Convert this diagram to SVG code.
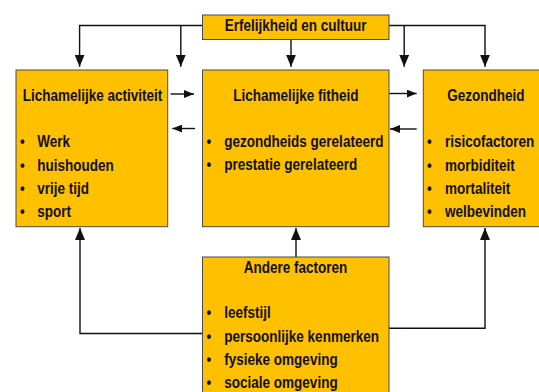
<svg xmlns="http://www.w3.org/2000/svg" width="539" height="392" viewBox="0 0 539 392">
<defs>
<style>
.box{fill:#FFC000;stroke:#4a4a4a;stroke-width:1}
.t{font-family:"Liberation Sans",Arial,sans-serif;font-weight:bold;font-size:16px;fill:#111}
.c{text-anchor:middle}
.ln{fill:none;stroke:#111;stroke-width:1.4}
</style>
<marker id="av" viewBox="0 0 12 10" refX="12" refY="5" markerWidth="12" markerHeight="10" markerUnits="userSpaceOnUse" orient="auto">
<path d="M0,0 L12,5 L0,10 z" fill="#111"/>
</marker>
<marker id="ah" viewBox="0 0 10 8" refX="10" refY="4" markerWidth="10" markerHeight="8" markerUnits="userSpaceOnUse" orient="auto">
<path d="M0,0 L10,4 L0,8 z" fill="#111"/>
</marker>
</defs>
<rect width="539" height="392" fill="#fff"/>

<g id="connectors">
<path class="ln" d="M202.5,25.5 H79.6 V66.7" marker-end="url(#av)"/>
<path class="ln" d="M180.8,25.5 V66.7" marker-end="url(#av)"/>
<path class="ln" d="M291,39.5 V66.7" marker-end="url(#av)"/>
<path class="ln" d="M389,25.5 H485 V66.7" marker-end="url(#av)"/>
<path class="ln" d="M404.2,25.5 V66.7" marker-end="url(#av)"/>
<path class="ln" d="M170.7,94 H194" marker-end="url(#ah)"/>
<path class="ln" d="M195,128.5 H172.3" marker-end="url(#ah)"/>
<path class="ln" d="M389,93.5 H416.7" marker-end="url(#ah)"/>
<path class="ln" d="M416.7,129 H390" marker-end="url(#ah)"/>
<path class="ln" d="M202.5,333.5 H80 V228" marker-end="url(#av)"/>
<path class="ln" d="M296,257 V228" marker-end="url(#av)"/>
<path class="ln" d="M389,328.3 H485 V228" marker-end="url(#av)"/>
</g>

<g id="erfelijkheid">
<rect class="box" x="202.5" y="15" width="186.5" height="24.5"/>
<text class="t c" transform="translate(295.7 31) scale(0.845 1)">Erfelijkheid en cultuur</text>
</g>

<g id="activiteit">
<rect class="box" x="16" y="70" width="151.7" height="156.7"/>
<text class="t" transform="translate(22.7 100.7) scale(0.845 1)">Lichamelijke activiteit</text>
<text class="t" transform="translate(19.9 147.3) scale(0.845 1)">•</text>
<text class="t" transform="translate(37.3 147.3) scale(0.845 1)">Werk</text>
<text class="t" transform="translate(19.9 170.7) scale(0.845 1)">•</text>
<text class="t" transform="translate(37.3 170.7) scale(0.845 1)">huishouden</text>
<text class="t" transform="translate(19.9 194) scale(0.845 1)">•</text>
<text class="t" transform="translate(37.3 194) scale(0.845 1)">vrije tijd</text>
<text class="t" transform="translate(19.9 217.3) scale(0.845 1)">•</text>
<text class="t" transform="translate(37.3 217.3) scale(0.845 1)">sport</text>
</g>

<g id="fitheid">
<rect class="box" x="202.5" y="70" width="186.5" height="156.7"/>
<text class="t c" transform="translate(295.8 100.7) scale(0.845 1)">Lichamelijke fitheid</text>
<text class="t" transform="translate(206.6 147.3) scale(0.845 1)">•</text>
<text class="t" transform="translate(224.3 147.3) scale(0.845 1)">gezondheids gerelateerd</text>
<text class="t" transform="translate(206.6 170.3) scale(0.845 1)">•</text>
<text class="t" transform="translate(224.3 170.3) scale(0.845 1)">prestatie gerelateerd</text>
</g>

<g id="gezondheid">
<rect class="box" x="423.3" y="70" width="120" height="156.7"/>
<text class="t c" transform="translate(485.8 100.7) scale(0.845 1)">Gezondheid</text>
<text class="t" transform="translate(426.9 147.3) scale(0.845 1)">•</text>
<text class="t" transform="translate(445 147.3) scale(0.845 1)">risicofactoren</text>
<text class="t" transform="translate(426.9 170.7) scale(0.845 1)">•</text>
<text class="t" transform="translate(445 170.7) scale(0.845 1)">morbiditeit</text>
<text class="t" transform="translate(426.9 194) scale(0.845 1)">•</text>
<text class="t" transform="translate(445 194) scale(0.845 1)">mortaliteit</text>
<text class="t" transform="translate(426.9 217.3) scale(0.845 1)">•</text>
<text class="t" transform="translate(445 217.3) scale(0.845 1)">welbevinden</text>
</g>

<g id="andere">
<rect class="box" x="202.5" y="257" width="186.5" height="140"/>
<text class="t c" transform="translate(295.5 272.7) scale(0.845 1)">Andere factoren</text>
<text class="t" transform="translate(206.6 318.4) scale(0.845 1)">•</text>
<text class="t" transform="translate(224.3 318.4) scale(0.845 1)">leefstijl</text>
<text class="t" transform="translate(206.6 342) scale(0.845 1)">•</text>
<text class="t" transform="translate(224.3 342) scale(0.845 1)">persoonlijke kenmerken</text>
<text class="t" transform="translate(206.6 365) scale(0.845 1)">•</text>
<text class="t" transform="translate(224.3 365) scale(0.845 1)">fysieke omgeving</text>
<text class="t" transform="translate(206.6 388) scale(0.845 1)">•</text>
<text class="t" transform="translate(224.3 388) scale(0.845 1)">sociale omgeving</text>
</g>
</svg>
